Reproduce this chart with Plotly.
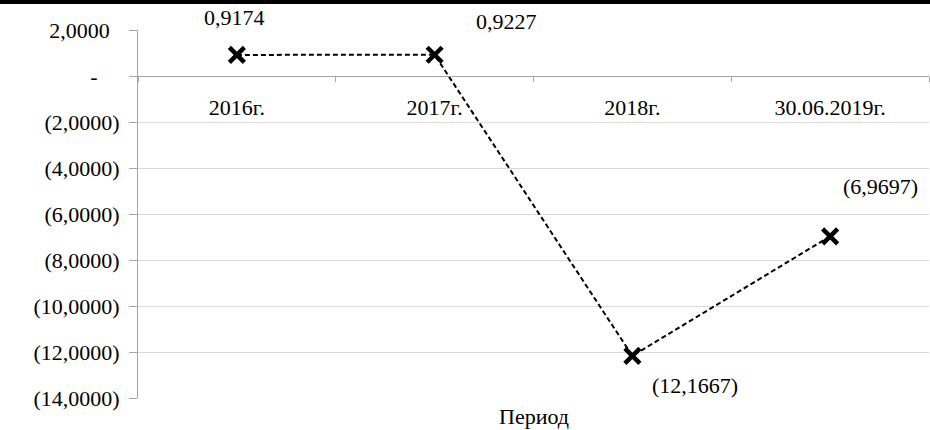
import plotly.graph_objects as go

categories = ["2016г.", "2017г.", "2018г.", "30.06.2019г."]
values = [0.9174, 0.9227, -12.1667, -6.9697]
value_labels = ["0,9174", "0,9227", "(12,1667)", "(6,9697)"]
y_tickvals = [2, 0, -2, -4, -6, -8, -10, -12, -14]
y_ticktext = ["2,0000\u00a0\u2009", "-\u00a0\u00a0\u00a0\u00a0", "(2,0000)", "(4,0000)",
              "(6,0000)", "(8,0000)", "(10,0000)", "(12,0000)", "(14,0000)"]
x_title = "Период"

FONT = "Liberation Serif, Times New Roman, serif"
FS = 22

fig = go.Figure()
fig.add_trace(go.Scatter(
    x=categories, y=values, mode="lines+markers",
    line=dict(color="black", width=2, dash="5px,3px"),
    marker=dict(symbol="x-thin", size=15, color="black",
                line=dict(color="black", width=4.5)),
    showlegend=False, hoverinfo="skip",
))

shifts = [(-2, 37), (72, 33), (63, -30), (50, 50)]
for c, v, t, (dx, dy) in zip(categories, values, value_labels, shifts):
    fig.add_annotation(x=c, y=v, text=t, showarrow=False, xshift=dx, yshift=dy,
                       font=dict(family=FONT, size=FS, color="black"))

fig.add_annotation(x=0.5, xref="paper", y=-0.012, yref="paper", yanchor="top",
                   text=x_title, showarrow=False,
                   font=dict(family=FONT, size=FS, color="black"))

# top black border
fig.add_shape(type="line", xref="paper", yref="paper", x0=-0.2, x1=1.01,
              y0=1 + 28 / 368, y1=1 + 28 / 368,
              line=dict(color="black", width=4))

plot_h = 430 - 30 - 32
zero_pos = (398 - 76) / plot_h

fig.update_layout(
    width=930, height=430,
    margin=dict(l=138, r=1, t=30, b=32, autoexpand=False),
    paper_bgcolor="white", plot_bgcolor="white",
    font=dict(family=FONT, size=FS, color="black"),
    xaxis=dict(
        type="category", range=[-0.5, 3.5],
        anchor="free", position=zero_pos,
        showgrid=False, zeroline=False, automargin=False,
        showline=True, linecolor="#a6a6a6", linewidth=1,
        ticks="outside", ticklen=5, tickcolor="#a6a6a6", tickson="boundaries",
        ticklabelstandoff=12,
        tickfont=dict(family=FONT, size=FS, color="black"),
    ),
    yaxis=dict(
        range=[-14, 2], tickmode="array", tickvals=y_tickvals, ticktext=y_ticktext,
        showgrid=True, gridcolor="#d9d9d9", gridwidth=1,
        zeroline=False, automargin=False,
        showline=True, linecolor="#a6a6a6", linewidth=1,
        ticks="outside", ticklen=8, tickcolor="#a6a6a6",
        ticklabelstandoff=5,
        tickfont=dict(family=FONT, size=FS, color="black"),
    ),
)

fig.write_html("out.html", config={"displayModeBar": False},
               post_script="document.body.style.margin='0';document.body.style.padding='0';")
